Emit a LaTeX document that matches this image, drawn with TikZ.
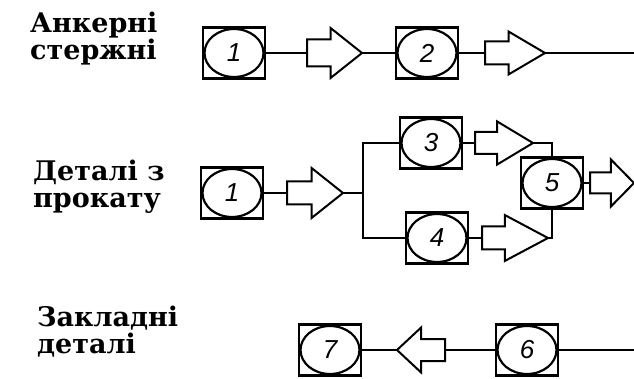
\documentclass[tikz,border=0pt]{standalone}
\usepackage{fontspec}
\setmainfont{DejaVu Serif}
\newfontfamily\digitfont{Liberation Sans}
\usetikzlibrary{shapes.arrows}
\tikzset{
  proc/.style={draw, line width=2.2pt, rectangle, minimum width=62pt, minimum height=51pt,
    inner sep=0pt, outer sep=0pt, font=\digitfont\itshape\fontsize{26}{26}\selectfont,
    path picture={\draw[line width=2.2pt] (path picture bounding box.center) ellipse (29.5pt and 24pt);}},
  barrow/.style={draw, single arrow, line width=2pt, inner xsep=0pt, outer sep=0pt,
    single arrow head indent=0pt, anchor=tail},
  conn/.style={line width=1.8pt},
  lbl/.style={font=\bfseries\fontsize{27}{27}\selectfont, align=left, inner sep=0pt, anchor=base west}
}
\begin{document}
\begin{tikzpicture}[x=1pt,y=-1pt]
\useasboundingbox (0,0) rectangle (634,379);
% labels
\node[lbl] (l1) at (30,60) {Анкерні\\стержні};
\node[lbl] (l2) at (33,208) {Деталі з\\прокату};
\node[lbl] (l3) at (37,353) {Закладні\\деталі};
% row 1
\node[proc] (r1b1) at (234,53) {1};
\node[barrow, minimum height=55pt, inner ysep=12.5pt, single arrow head extend=11.5pt, single arrow tip angle=77] (r1a1) at (307,53) {};
\node[proc] (r1b2) at (427,53) {2};
\node[barrow, minimum height=60pt, inner ysep=10.5pt, single arrow head extend=10pt, single arrow tip angle=61] (r1a2) at (485,53) {};
\coordinate (r1end) at (634,53);
\draw[conn] (r1b1.east) -- (r1a1.tail);
\draw[conn] (r1a1.tip) -- (r1b2.west);
\draw[conn] (r1b2.east) -- (r1a2.tail);
\draw[conn] (r1a2.tip) -- (r1end);
% row 2
\node[proc] (r2b1) at (232,193) {1};
\node[barrow, minimum height=56pt, inner ysep=10.5pt, single arrow head extend=13.5pt, single arrow tip angle=77] (r2a1) at (287,193) {};
\coordinate (j) at (363,193);
\coordinate (jt) at (363,143);
\coordinate (jb) at (363,238);
\node[proc] (r2b3) at (431,143) {3};
\node[proc] (r2b4) at (437,238) {4};
\node[barrow, minimum height=58pt, inner ysep=10pt, single arrow head extend=10.5pt, single arrow tip angle=62] (r2a3) at (475,143) {};
\node[barrow, minimum height=66pt, inner ysep=10.5pt, single arrow head extend=11.5pt, single arrow tip angle=56] (r2a4) at (482,238) {};
\node[proc] (r2b5) at (552,183) {5};
\node[barrow, minimum height=44pt, inner ysep=9.5pt, single arrow head extend=13pt, single arrow tip angle=91] (r2a5) at (590,183) {};
\coordinate (k3) at (552,143);
\coordinate (k4) at (552,238);
\draw[conn] (r2b1.east) -- (r2a1.tail);
\draw[conn] (r2a1.tip) -- (j);
\draw[conn] (r2b3.west) -- (jt) -- (jb) -- (r2b4.west);
\draw[conn] (r2b3.east) -- (r2a3.tail);
\draw[conn] (r2b4.east) -- (r2a4.tail);
\draw[conn] (r2a3.tip) -- (k3) -- (r2b5.north);
\draw[conn] (r2a4.tip) -- (k4) -- (r2b5.south);
\draw[conn] (r2b5.east) -- (r2a5.tail);
% row 3
\node[proc] (r3b7) at (330,350) {7};
\node[barrow, shape border rotate=180, minimum height=48pt, inner ysep=10pt, single arrow head extend=11.5pt, single arrow tip angle=86] (r3a7) at (445,350) {};
\node[proc] (r3b6) at (527,350) {6};
\coordinate (r3end) at (634,350);
\draw[conn] (r3b6.east) -- (r3end);
\draw[conn] (r3b6.west) -- (r3a7.tail);
\draw[conn] (r3a7.tip) -- (r3b7.east);
\end{tikzpicture}
\end{document}
